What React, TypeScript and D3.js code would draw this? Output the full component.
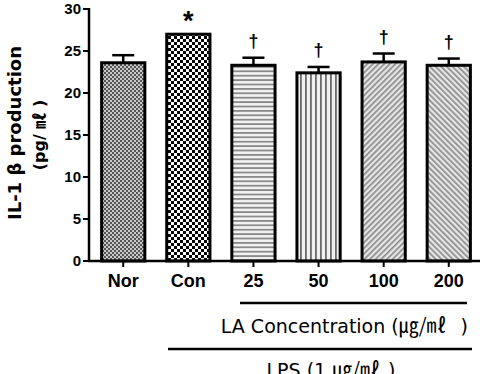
import React from "react";
import * as d3 from "d3";

const categories = ["Nor", "Con", "25", "50", "100", "200"];
const means = [23.6, 27.0, 23.3, 22.4, 23.7, 23.3];
const sems = [0.9, 0, 0.9, 0.7, 1.0, 0.8];
const marks = ["", "*", "†", "†", "†", "†"];
const yTicks = [0, 5, 10, 15, 20, 25, 30];
const patternIds = ["pNor", "pCon", "pH", "pV", "pD1", "pD2"];

const W = 490;
const H = 374;
const left = 89;
const right = 481;
const top = 9;
const bottom = 261;

export default function App() {
  const x = d3.scaleBand<string>().domain(categories).range([left + 2, right]).paddingInner(0.29).paddingOuter(0.14);
  const y = d3.scaleLinear().domain([0, 30]).range([bottom, top]);
  const bw = x.bandwidth();
  const font = "'Liberation Sans', Arial, sans-serif";
  const wide = "'DejaVu Sans', sans-serif";
  const cjk = "'Noto Sans CJK KR', sans-serif";

  return (
    <svg width={W} height={H} style={{ position: "absolute", left: 0, top: 0, background: "#fff" }}>
      <defs>
        <pattern id="pNor" width="4" height="4" patternUnits="userSpaceOnUse">
          <rect width="4" height="4" fill="#c8c8c8" />
          <rect width="2" height="2" fill="#555" />
          <rect x="2" y="2" width="2" height="2" fill="#555" />
        </pattern>
        <pattern id="pCon" width="6" height="6" patternUnits="userSpaceOnUse">
          <rect width="6" height="6" fill="#fff" />
          <rect width="3" height="3" fill="#000" />
          <rect x="3" y="3" width="3" height="3" fill="#000" />
        </pattern>
        <pattern id="pH" width="4" height="4.4" patternUnits="userSpaceOnUse">
          <rect width="4" height="4.4" fill="#f2f2f2" />
          <rect y="0" width="4" height="1.8" fill="#8a8a8a" />
        </pattern>
        <pattern id="pV" width="5" height="4" patternUnits="userSpaceOnUse">
          <rect width="5" height="4" fill="#f0f0f0" />
          <rect x="0" width="1.8" height="4" fill="#6a6a6a" />
        </pattern>
        <pattern id="pD1" width="4" height="4" patternUnits="userSpaceOnUse" patternTransform="rotate(45)">
          <rect width="4" height="4" fill="#e6e6e6" />
          <rect width="1.7" height="4" fill="#8c8c8c" />
        </pattern>
        <pattern id="pD2" width="4" height="4" patternUnits="userSpaceOnUse" patternTransform="rotate(-45)">
          <rect width="4" height="4" fill="#e6e6e6" />
          <rect width="1.7" height="4" fill="#8c8c8c" />
        </pattern>
      </defs>

      {/* bars with error bars and significance marks */}
      {categories.map((c, i) => {
        const x0 = x(c)!;
        const cx = x0 + bw / 2;
        const yTop = y(means[i]);
        const yErr = y(means[i] + sems[i]);
        const isStar = marks[i] === "*";
        return (
          <g key={c}>
            {sems[i] > 0 && (
              <g stroke="#000" strokeWidth={2.5}>
                <line x1={cx} x2={cx} y1={yTop} y2={yErr} />
                <line x1={cx - 11} x2={cx + 11} y1={yErr} y2={yErr} />
              </g>
            )}
            <rect
              x={x0 + 1.5}
              y={yTop}
              width={bw - 3}
              height={bottom - yTop}
              fill={`url(#${patternIds[i]})`}
              stroke="#000"
              strokeWidth={3}
            />
            {marks[i] && (
              <text
                x={cx}
                y={isStar ? yTop - 4 : yErr - 11}
                textAnchor="middle"
                fontFamily={font}
                fontWeight="bold"
                fontSize={isStar ? 27 : 18}
                fill="#000"
              >
                {marks[i]}
              </text>
            )}
          </g>
        );
      })}

      {/* y axis */}
      <line x1={left} x2={left} y1={top - 1} y2={bottom + 1} stroke="#000" strokeWidth={2.5} />
      {yTicks.map((t) => (
        <g key={t}>
          <line x1={left - 6} x2={left} y1={y(t)} y2={y(t)} stroke="#000" strokeWidth={2} />
          <text x={left - 8} y={y(t) + 5} textAnchor="end" fontFamily={font} fontWeight="bold" fontSize={15} fill="#000">
            {t}
          </text>
        </g>
      ))}

      {/* x axis */}
      <line x1={left - 1} x2={right - 1} y1={bottom} y2={bottom} stroke="#000" strokeWidth={2.5} />
      {categories.map((c) => {
        const cx = x(c)! + bw / 2;
        return (
          <g key={c}>
            <line x1={cx} x2={cx} y1={bottom} y2={bottom + 6} stroke="#000" strokeWidth={2} />
            <text x={cx} y={287} textAnchor="middle" fontFamily={font} fontWeight="bold" fontSize={18} fill="#000">
              {c}
            </text>
          </g>
        );
      })}

      {/* y axis title */}
      <g transform="translate(21,133) rotate(-90)">
        <text textAnchor="middle" fontFamily={wide} fontWeight="bold" fontSize={18} fill="#000">
          IL-1 β production
        </text>
      </g>
      <g transform="translate(45,135) rotate(-90)">
        <text textAnchor="middle" fontFamily={wide} fontWeight="bold" fontSize={16} fill="#000">
          (pg/ <tspan fontFamily={cjk} fontSize={16}>㎖</tspan> )
        </text>
      </g>

      {/* treatment group annotations */}
      <line x1={240} x2={467} y1={303} y2={303} stroke="#000" strokeWidth={2.5} />
      <text x={468} y={333} textAnchor="end" fontFamily={wide} fontSize={19} fill="#000">
        LA Concentration (<tspan fontFamily={cjk} fontSize={20}>㎍/㎖</tspan>
        <tspan dx={14}>)</tspan>
      </text>
      <line x1={168} x2={472} y1={349} y2={349} stroke="#000" strokeWidth={2.5} />
      <text x={331} y={377} textAnchor="middle" fontFamily={wide} fontSize={19} fill="#000">
        LPS (1 <tspan fontFamily={cjk} fontSize={20}>㎍/㎖</tspan>
        <tspan dx={8}>)</tspan>
      </text>
    </svg>
  );
}
